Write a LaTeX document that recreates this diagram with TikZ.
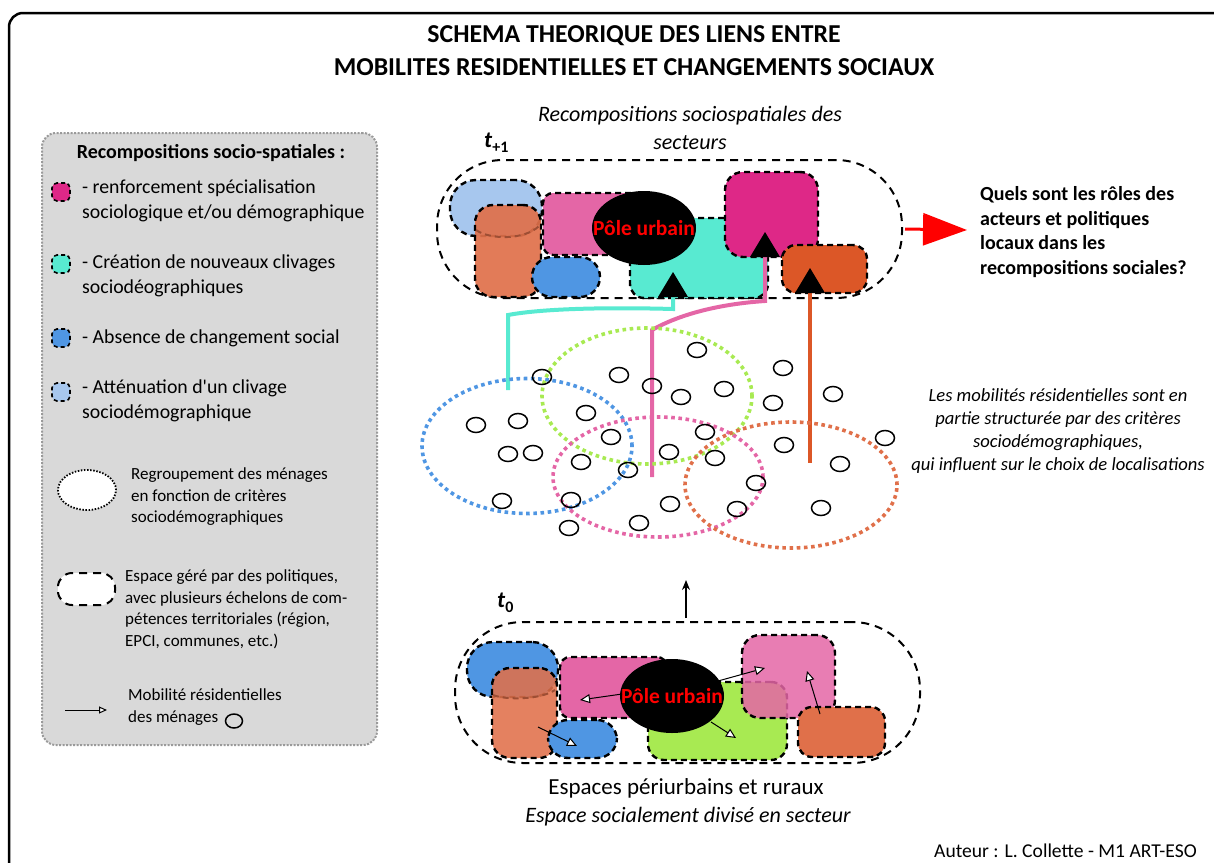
\documentclass[tikz,border=0pt]{standalone}
\usepackage{fontspec}
\setmainfont{Carlito}
\newfontfamily\plainq{Carlito}
\usetikzlibrary{shapes.geometric,arrows.meta}
\definecolor{cpink}{HTML}{E466A6}
\definecolor{cmag}{HTML}{DE2887}
\definecolor{cteal}{HTML}{58EAD1}
\definecolor{cblue}{HTML}{4F96E3}
\definecolor{clblue}{HTML}{A7C7EE}
\definecolor{corange}{HTML}{E0704A}
\definecolor{cored}{HTML}{DC5727}
\definecolor{cgreen}{HTML}{A8EA52}
\definecolor{cgray}{HTML}{D9D9D9}
\definecolor{cgrayline}{HTML}{9A9A9A}
\begin{document}
\begin{tikzpicture}[x=1pt,y=-1pt,
  zone/.style={draw=black, line width=2.4pt, dash pattern=on 6pt off 4pt, rounded corners=#1, inner sep=0pt, outer sep=0pt},
  policy/.style={draw=black, line width=2pt, dash pattern=on 8pt off 6pt, rounded corners=#1, inner sep=0pt},
  group/.style={draw=#1, line width=3.6pt, dash pattern=on 3.6pt off 3.6pt, ellipse, inner sep=0pt},
  hh/.style={draw=black, line width=1.5pt, ellipse, minimum width=19pt, minimum height=15pt, inner sep=0pt},
  pole/.style={ellipse, fill=black, minimum width=104pt, minimum height=74pt, inner sep=0pt},
  poletxt/.style={text=red, font=\fontsize{21.5}{24}\selectfont\bfseries, inner sep=0pt},
  link/.style={line width=4pt},
  mob/.style={draw=black, line width=1pt, -{Triangle[fill=white,length=10pt,width=9pt]}},
  legsq/.style={draw=black, line width=1.6pt, dash pattern=on 4pt off 3pt, rounded corners=5pt, minimum width=18pt, minimum height=18pt, inner sep=0pt},
  legtxt/.style={anchor=west, align=left, inner sep=0pt, font=\fontsize{19.8}{25}\selectfont},
  legsmall/.style={anchor=west, align=left, inner sep=0pt, font=\fontsize{17}{21.5}\selectfont},
  tri/.style={fill=black}
]
\useasboundingbox (0,0) rectangle (1214,862);
\begin{scope}
\clip (0,0) rectangle (1214,862);
\draw[line width=2.5pt, rounded corners=14pt] (9,13) rectangle (1240,890);
\end{scope}

% title
\node[font=\fontsize{25.8}{33}\selectfont\bfseries, align=center, inner sep=0pt] (title) at (634,51)
  {SCHEMA THEORIQUE DES LIENS ENTRE\\MOBILITES RESIDENTIELLES ET CHANGEMENTS SOCIAUX};

% legend
\node[draw=cgrayline, fill=cgray, line width=2pt, dash pattern=on 2pt off 1.5pt, rounded corners=14pt,
  minimum width=335pt, minimum height=612pt, inner sep=0pt] (legend) at (209.5,439) {};
\node[font=\fontsize{20}{22}\selectfont\bfseries, inner sep=0pt] (leghead) at (211,153) {Recompositions socio-spatiales :};
\node[legsq, fill=cmag] (sq1) at (61,192) {};
\node[legtxt] (lt1) at (82,201) {- renforcement spécialisation\\sociologique et/ou démographique};
\node[legsq, fill=cteal] (sq2) at (61,264) {};
\node[legtxt] (lt2) at (82,276) {- Création de nouveaux clivages\\sociodéographiques};
\node[legsq, fill=cblue] (sq3) at (61,338) {};
\node[legtxt] (lt3) at (82,338) {- Absence de changement social};
\node[legsq, fill=clblue] (sq4) at (61,392) {};
\node[legtxt] (lt4) at (82,401) {- Atténuation d{\plainq '}un clivage\\sociodémographique};
\node[ellipse, fill=white, draw=black, line width=1.8pt, dash pattern=on 1.5pt off 1.6pt, minimum width=58pt, minimum height=40pt, inner sep=0pt] (legell) at (87,490) {};
\node[legsmall] (lt5) at (131,497) {Regroupement des ménages\\en fonction de critères\\sociodémographiques};
\node[fill=white, draw=black, line width=2pt, dash pattern=on 8pt off 6pt, rounded corners=14pt, minimum width=57pt, minimum height=32pt, inner sep=0pt] (legpol) at (86.5,589) {};
\node[legsmall] (lt6) at (125,609.5) {Espace géré par des politiques,\\avec plusieurs échelons de com-\\pétences territoriales (région,\\EPCI, communes, etc.)};
\coordinate (la1) at (65,710);
\coordinate (la2) at (107,710);
\draw[draw=black, line width=1pt, -{Triangle[fill=white,length=8pt,width=7pt]}] (la1) -- (la2);
\node[legsmall] (lt7) at (128,707) {Mobilité résidentielles\\des ménages};
\node[hh, minimum width=17pt, minimum height=14pt] (leghh) at (234,721) {};

% ===== top cluster t+1
\node[font=\fontsize{22}{28}\selectfont\itshape, align=center, inner sep=0pt] (toptxt) at (690,128) {Recompositions sociospatiales des\\secteurs};
\node[font=\fontsize{23}{26}\selectfont\bfseries, inner sep=0pt, anchor=base west] (tp1) at (484,147) {\textit{t}\raisebox{-5pt}{\fontsize{16}{18}\selectfont +1}};
\node[policy=66pt, minimum width=465pt, minimum height=138pt] (top) at (669.5,229) {};
\node[zone=26pt, fill=clblue, minimum width=92pt, minimum height=56pt] (a1) at (496,208) {};
\node[zone=18pt, fill=corange, fill opacity=0.92, minimum width=66pt, minimum height=92pt] (a2) at (508,251) {};
\draw[draw=corange!70!black, line width=2pt, dash pattern=on 6pt off 4pt] (476,230) .. controls (490,240) and (525,240) .. (539,226);
\node[zone=10pt, fill=cpink, minimum width=108pt, minimum height=62pt] (a3) at (597,224) {};
\node[zone=20pt, fill=cblue, minimum width=68pt, minimum height=40pt] (a4) at (566,277) {};
\node[zone=14pt, fill=cteal, minimum width=138pt, minimum height=80pt] (a5) at (699,258) {};
\node[pole] (pole1) at (644,228) {};
\node[poletxt] (pt1) at (644,228) {Pôle urbain};
\node[zone=18pt, fill=cmag, minimum width=93pt, minimum height=85pt] (a6) at (771.5,214.5) {};
\node[zone=14pt, fill=cored, minimum width=85pt, minimum height=48pt] (a7) at (824.5,269) {};

% links from groups to sectors
\coordinate (s1) at (673,297);
\coordinate (s2) at (765,257);
\coordinate (s3) at (810,293);
\coordinate (e1) at (508,390);
\coordinate (e2) at (652,477);
\coordinate (e3) at (810,463);
\draw[link, draw=cteal] (s1) -- (673,309) .. controls (600,307) and (540,309) .. (508,315) -- (e1);
\draw[link, draw=cpink] (s2) -- (765,301) .. controls (720,304) and (680,314) .. (652,330) -- (e2);
\draw[link, draw=cored] (s3) -- (e3);
\fill[tri] (s1) ++(-15,0) -- ++(15,-25) -- ++(15,25) -- cycle;
\fill[tri] (s2) ++(-15,0) -- ++(15,-25) -- ++(15,25) -- cycle;
\fill[tri] (s3) ++(-15,0) -- ++(15,-25) -- ++(15,25) -- cycle;

% red arrow and question
\draw[draw=red, line width=3pt, -{Triangle[length=44pt,width=32pt]}] (top.east) ++(2,0) -- (967,230);
\node[font=\fontsize{20}{24.8}\selectfont\bfseries, anchor=west, align=left, inner sep=0pt] (question) at (980,232)
  {Quels sont les rôles des\\acteurs et politiques\\locaux dans les\\recompositions sociales?};

% ===== middle groups
\node[group=cblue, minimum width=210pt, minimum height=135pt] (g1) at (527,446) {};
\node[group=cgreen, minimum width=210pt, minimum height=136pt] (g2) at (647,396) {};
\node[group=cpink, minimum width=210pt, minimum height=120pt] (g3) at (658,477) {};
\node[group=corange, minimum width=212pt, minimum height=126pt] (g4) at (791,485) {};
\foreach \i/\x/\y in {1/697/350,2/783/368,3/542/377,4/619/375,5/652/386,6/681/397,7/724/389,8/773/403,9/833/394,10/586/413,11/476/425,12/518/421,13/611/437,14/705/432,15/784/445,16/885/438,17/508/454,18/533/453,19/581/462,20/669/452,21/715/458,22/628/470,23/840/464,24/756/483,25/502/501,26/571/500,27/670/504,28/737/509,29/821/508,30/639/523,31/569/528}
  \node[hh] (h\i) at (\x,\y) {};
\node[font=\fontsize{18.6}{23}\selectfont\itshape, align=center, inner sep=0pt] (mobtxt) at (1058,431)
  {Les mobilités résidentielles sont en\\partie structurée par des critères\\sociodémographiques,\\qui influent sur le choix de localisations};

% ===== bottom cluster t0
\coordinate (up1) at (686,618);
\coordinate (up2) at (686,580);
\draw[line width=1.4pt, -{Stealth[length=10pt,width=8pt]}] (up1) -- (up2);
\node[font=\fontsize{23}{26}\selectfont\bfseries, inner sep=0pt, anchor=base west] (t0) at (497,607) {\textit{t}\raisebox{-5pt}{\fontsize{16}{18}\selectfont 0}};
\node[policy=68pt, minimum width=465pt, minimum height=141pt] (bot) at (687.5,692.5) {};
\node[zone=26pt, fill=cblue, minimum width=91pt, minimum height=55pt] (b1) at (512.5,669.5) {};
\node[zone=18pt, fill=corange, fill opacity=0.88, minimum width=65pt, minimum height=90pt] (b2) at (524.5,713) {};
\draw[draw=corange!70!black, line width=2pt, dash pattern=on 6pt off 4pt] (493,695) .. controls (505,700) and (540,700) .. (555,690);
\node[zone=10pt, fill=cpink, minimum width=107pt, minimum height=61pt] (b3) at (613.5,687.5) {};
\node[zone=20pt, fill=cblue, minimum width=69pt, minimum height=38pt] (b4) at (582.5,739) {};
\node[zone=16pt, fill=cgreen, minimum width=139pt, minimum height=78pt] (b5) at (717.5,721) {};
\node[pole] (pole0) at (672,696) {};
\node[zone=18pt, fill=cpink, fill opacity=0.85, minimum width=93pt, minimum height=83pt] (b6) at (788.5,676.5) {};
\node[zone=14pt, fill=corange, minimum width=87pt, minimum height=50pt] (b7) at (841.5,732) {};
\node[poletxt] (pt0) at (672,696) {Pôle urbain};
\coordinate (m1a) at (622,694); \coordinate (m1b) at (580,700);
\coordinate (m2a) at (718,681); \coordinate (m2b) at (765,668);
\coordinate (m3a) at (711,722); \coordinate (m3b) at (736,738);
\coordinate (m4a) at (820,714); \coordinate (m4b) at (807,671);
\coordinate (m5a) at (538,727); \coordinate (m5b) at (577,746);
\draw[mob] (m1a) -- (m1b);
\draw[mob] (m2a) -- (m2b);
\draw[mob] (m3a) -- (m3b);
\draw[mob] (m4a) -- (m4b);
\draw[mob] (m5a) -- (m5b);

\node[font=\fontsize{23}{20}\selectfont, inner sep=0pt] (bottxt1) at (686,788) {Espaces périurbains et ruraux};
\node[font=\fontsize{22}{20}\selectfont\itshape, inner sep=0pt] (bottxt2) at (688,817) {Espace socialement divisé en secteur};
\node[font=\fontsize{19.6}{22}\selectfont, anchor=east, inner sep=0pt] (author) at (1197,851) {Auteur : L. Collette - M1 ART-ESO};
\end{tikzpicture}
\end{document}
